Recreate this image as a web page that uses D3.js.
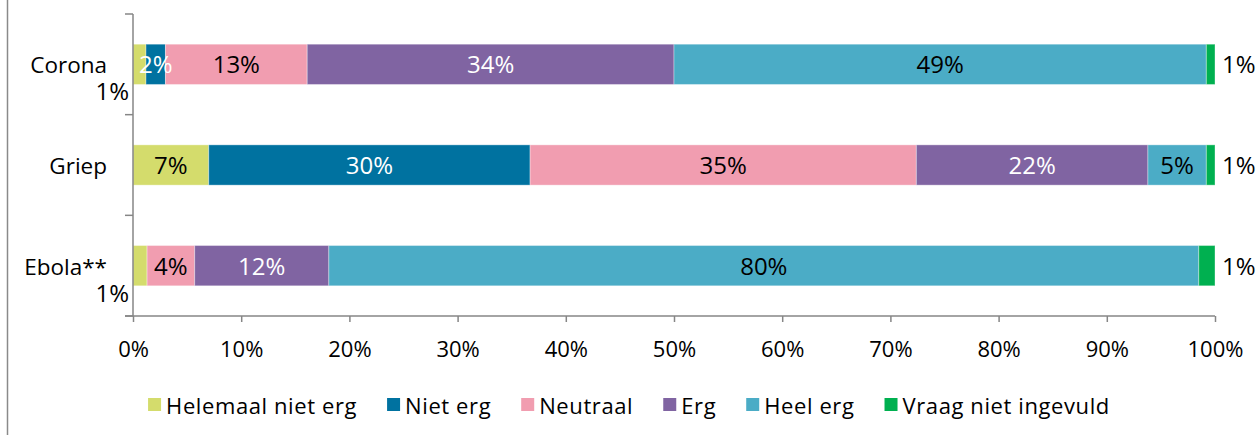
<!DOCTYPE html>
<html>
<head>
<meta charset="utf-8">
<script src="https://cdn.jsdelivr.net/npm/d3@7"></script>
<style>
  body { margin: 0; background: #fff; }
  svg text { font-family: "Open Sans", sans-serif; fill: #000; }
</style>
</head>
<body>
<script>
// categories and series
var categories = ["Corona", "Griep", "Ebola**"];
var seriesNames = ["Helemaal niet erg", "Niet erg", "Neutraal", "Erg", "Heel erg", "Vraag niet ingevuld"];
var seriesColors = ["#d4dc6c", "#0072a0", "#f19db0", "#8064a2", "#4bacc6", "#00b050"];

// values (percent), per category
var helemaal = [1.2, 7.0, 1.3];
var nietErg  = [1.8, 29.7, 0];
var neutraal = [13.1, 35.7, 4.4];
var erg      = [33.9, 21.4, 12.4];
var heelErg  = [49.2, 5.4, 80.4];
var vraag    = [0.8, 0.8, 1.5];

// labels as printed on the chart
var helemaalLbl = ["1%", "7%", "1%"];
var nietErgLbl  = ["2%", "30%", ""];
var neutraalLbl = ["13%", "35%", "4%"];
var ergLbl      = ["34%", "22%", "12%"];
var heelErgLbl  = ["49%", "5%", "80%"];
var vraagLbl    = ["1%", "1%", "1%"];

var xTicks = [0, 10, 20, 30, 40, 50, 60, 70, 80, 90, 100];

var allValues = [helemaal, nietErg, neutraal, erg, heelErg, vraag];
var allLabels = [helemaalLbl, nietErgLbl, neutraalLbl, ergLbl, heelErgLbl, vraagLbl];
var whiteText = [false, true, false, true, false, false];

var W = 1260, H = 435;
var svg = d3.select("body").append("svg")
    .attr("width", W)
    .attr("height", H);

// outer frame line on the left
svg.append("line")
    .attr("x1", 7.5).attr("x2", 7.5)
    .attr("y1", 0).attr("y2", H)
    .attr("stroke", "#8a8a8a").attr("stroke-width", 1.5);

var x = d3.scaleLinear().domain([0, 100]).range([133, 1215]);
var y = d3.scaleBand().domain(categories).range([14, 316])
    .paddingInner(0.6).paddingOuter(0.3);

// build stacked rows
var rows = categories.map(function(c, i) {
  var obj = { cat: c };
  seriesNames.forEach(function(s, j) { obj[s] = allValues[j][i]; });
  return obj;
});
var stack = d3.stack().keys(seriesNames)(rows);

var layers = svg.selectAll("g.layer")
    .data(stack)
    .enter().append("g")
    .attr("class", "layer")
    .attr("fill", function(d, i) { return seriesColors[i]; });

layers.selectAll("rect")
    .data(function(d) { return d; })
    .enter().append("rect")
    .attr("x", function(d) { return x(d[0]); })
    .attr("y", function(d) { return y(d.data.cat); })
    .attr("width", function(d) { return x(d[1]) - x(d[0]); })
    .attr("height", y.bandwidth())
    .attr("stroke", "#fff")
    .attr("stroke-opacity", 0.35)
    .attr("stroke-width", 1);

// data labels
stack.forEach(function(layer, j) {
  layer.forEach(function(d, i) {
    var lbl = allLabels[j][i];
    if (!lbl) return;
    var cy = y(d.data.cat) + y.bandwidth() / 2;
    var t = svg.append("text")
        .attr("font-size", 24)
        .text(lbl);
    if (j === 0 && d[1] - d[0] < 2) {
      // tiny first segment: label sits below-left of the bar
      t.attr("x", x(0) - 4)
       .attr("y", y(d.data.cat) + y.bandwidth() + 16)
       .attr("text-anchor", "end");
    } else if (j === seriesNames.length - 1) {
      t.attr("x", x(d[1]) + 7)
       .attr("y", cy + 9)
       .attr("text-anchor", "start");
    } else {
      t.attr("x", (x(d[0]) + x(d[1])) / 2)
       .attr("y", cy + 9)
       .attr("text-anchor", "middle")
       .style("fill", whiteText[j] ? "#fff" : "#000");
    }
  });
});

// category axis
var axisColor = "#868686";
svg.append("line")
    .attr("x1", x(0)).attr("x2", x(0))
    .attr("y1", 14).attr("y2", 316)
    .attr("stroke", axisColor).attr("stroke-width", 1.5);

var bounds = [14].concat(categories.map(function(c) { return y(c) - y.step() * y.paddingInner() / 2 + y.step(); }));
svg.selectAll("line.cattick")
    .data(bounds)
    .enter().append("line")
    .attr("class", "cattick")
    .attr("x1", x(0) - 8).attr("x2", x(0))
    .attr("y1", function(d) { return d; })
    .attr("y2", function(d) { return d; })
    .attr("stroke", axisColor).attr("stroke-width", 1.5);

svg.selectAll("text.cat")
    .data(categories)
    .enter().append("text")
    .attr("class", "cat")
    .attr("x", 107)
    .attr("y", function(d) { return y(d) + y.bandwidth() / 2 + 9; })
    .attr("text-anchor", "end")
    .attr("font-size", 22.5)
    .text(function(d) { return d; });

// value axis
var xAxis = svg.append("g")
    .attr("transform", "translate(0,316)")
    .call(d3.axisBottom(x).tickValues(xTicks).tickSize(6).tickSizeOuter(0)
      .tickFormat(function(d) { return d + "%"; }));
xAxis.select(".domain").remove();
xAxis.append("line")
    .attr("x1", x(0) - 8).attr("x2", x(100))
    .attr("stroke", axisColor).attr("stroke-width", 1.5);
xAxis.selectAll(".tick line").attr("stroke", axisColor).attr("stroke-width", 1.5);
xAxis.selectAll(".tick text")
    .attr("y", 41).attr("dy", null)
    .attr("font-size", 22)
    .attr("font-family", "Open Sans, sans-serif")
    .style("fill", "#000");

// legend
var legend = svg.append("g");
var lx = 0;
seriesNames.forEach(function(s, i) {
  var g = legend.append("g").attr("transform", "translate(" + lx + ",0)");
  g.append("rect")
      .attr("x", 0).attr("y", 398)
      .attr("width", 13).attr("height", 13)
      .attr("fill", seriesColors[i]);
  var t = g.append("text")
      .attr("x", 18).attr("y", 414)
      .attr("font-size", 22)
      .attr("letter-spacing", 0.6)
      .text(s);
  lx += 18 + t.node().getComputedTextLength() + 30;
});
var legW = lx - 30;
legend.attr("transform", "translate(" + (629 - legW / 2) + ",0)");
</script>
</body>
</html>
